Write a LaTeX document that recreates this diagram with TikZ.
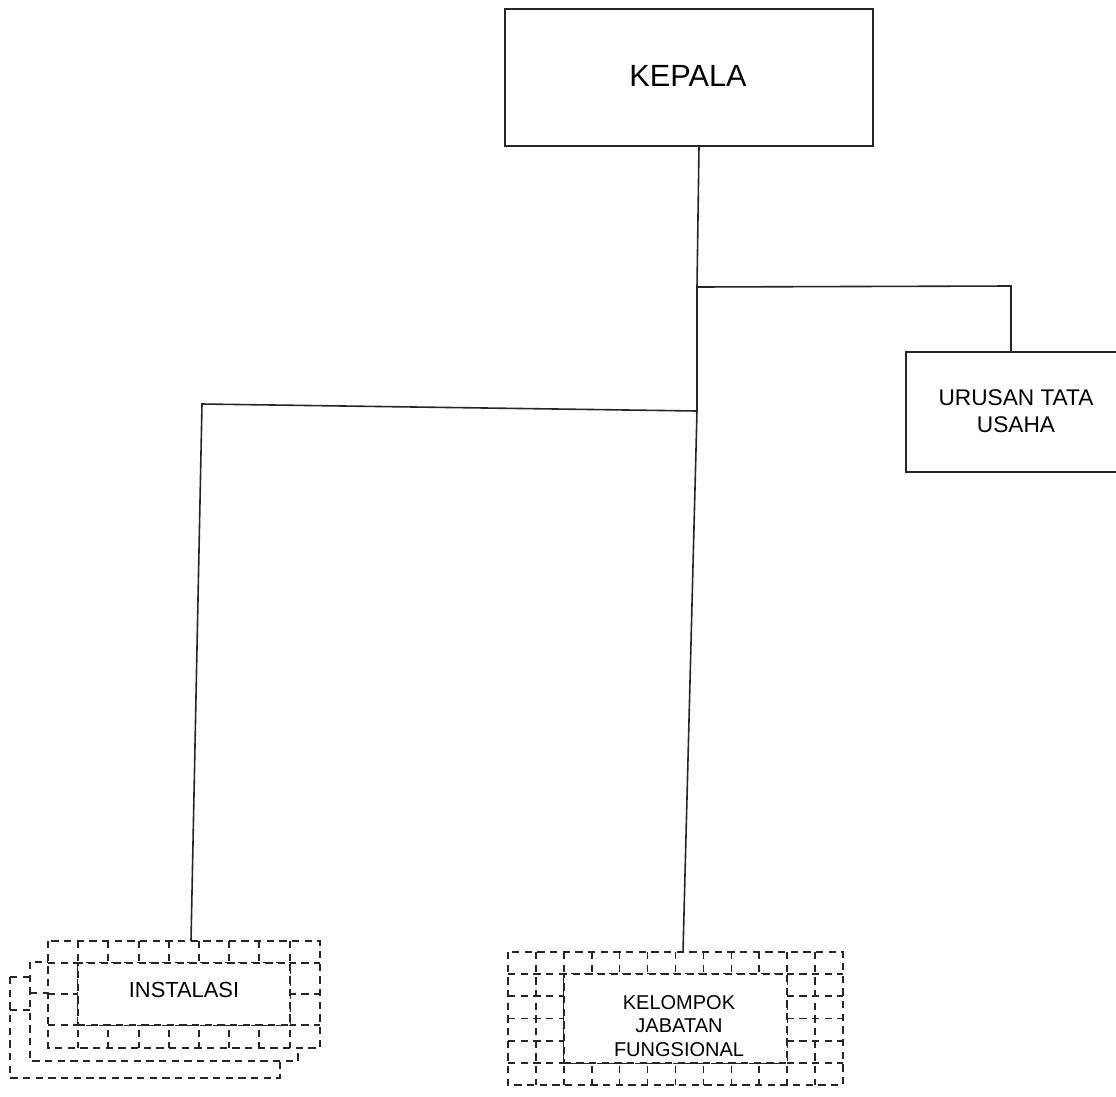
\documentclass[tikz,border=0pt]{standalone}
\usepackage{fontspec}
\setmainfont{Liberation Sans}
\begin{document}
\begin{tikzpicture}[x=0.75pt,y=-0.75pt,
  solidbox/.style={draw=black!85, line width=1.1pt, rectangle, inner sep=0pt},
  conn/.style={draw=black!85, line width=1.2pt},
  dsh/.style={draw=black!85, line width=1.2pt, dash pattern=on 5.5pt off 4pt},
  innerbox/.style={dsh, fill=white, rectangle, inner sep=0pt},
  lbl/.style={align=center, inner sep=0pt, text=black}
]
\useasboundingbox (0,0) rectangle (1116,1096);

% solid boxes
\node[solidbox, minimum width=276pt, minimum height=102.75pt] (kep) at (689,77.5) {};
\node[lbl, font=\fontsize{23}{27}\selectfont] (keptxt) at (688,76) {KEPALA};
\node[solidbox, minimum width=160.5pt, minimum height=90pt] (uru) at (1013,412) {};
\node[lbl, font=\fontsize{17}{20.3}\selectfont] (urutxt) at (1016,411) {URUSAN TATA\\USAHA};

% INSTALASI stack
\draw[dsh, fill=white] (10,977) rectangle (280,1078);
\draw[dsh] (10,1010) -- (30,1010);
\draw[dsh, fill=white] (30,962) rectangle (298,1061);
\draw[dsh] (30,993) -- (48,993);
\fill[white] (48,941) rectangle (320,1048);
\foreach \yy in {963,994,1025} \draw[dsh] (48,\yy) -- (320,\yy);
\foreach \xx in {78,108,139,169,199,229,259,290} \draw[dsh] (\xx,941) -- (\xx,1048);
\node[innerbox, minimum width=159pt, minimum height=46.5pt] (insin) at (184,994) {};
\draw[dsh] (48,941) rectangle (320,1048);
\node[lbl, font=\fontsize{16.4}{19.7}\selectfont] (instxt) at (184,990) {INSTALASI};

% KELOMPOK JABATAN FUNGSIONAL
\fill[white] (508,952) rectangle (843,1085);
\foreach \yy in {974,996,1018.5,1041,1063} \draw[dsh] (508,\yy) -- (843,\yy);
\foreach \k in {1,...,11} \draw[dsh] ({508+27.92*\k},952) -- ({508+27.92*\k},1085);
\node[innerbox, minimum width=167.4pt, minimum height=66.75pt] (kelin) at (675.4,1018.5) {};
\draw[dsh] (508,952) rectangle (843,1085);
\node[lbl, font=\fontsize{15}{17.8}\selectfont] (keltxt) at (679,1026) {KELOMPOK\\JABATAN\\FUNGSIONAL};

% connectors
\coordinate (k0) at (699,146);
\coordinate (j1) at (697,287);
\coordinate (j2) at (697,411);
\coordinate (j3) at (202,404);
\coordinate (j4) at (1011,286);
\coordinate (it) at (191,941);
\coordinate (kt) at (683,952);
\draw[conn] (k0) -- (j1) -- (j2) -- (kt);
\draw[conn] (j1) -- (j4) -- (j4 |- uru.north);
\draw[conn] (j2) -- (j3) -- (it);
\end{tikzpicture}
\end{document}
